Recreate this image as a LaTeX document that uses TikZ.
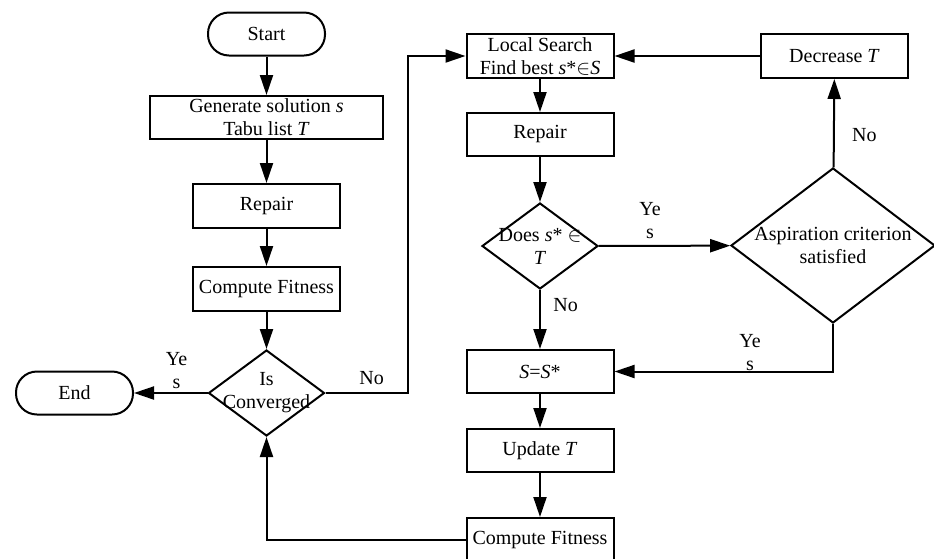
\documentclass[tikz,border=0pt]{standalone}
\usepackage{fontspec}
\setmainfont{Liberation Serif}
\usetikzlibrary{arrows.meta,shapes.geometric}

\begin{document}
\begin{tikzpicture}[x=1pt,y=-1pt,line width=2pt,
    font=\fontsize{20}{23}\selectfont,
    box/.style={draw,rectangle,minimum width=147pt,minimum height=44pt,inner sep=0pt,align=center},
    term/.style={draw,rectangle,rounded corners=21pt,minimum width=117pt,minimum height=43pt,inner sep=0pt},
    cond/.style={draw,diamond,inner sep=0pt,minimum width=116pt,minimum height=86pt},
    arr/.style={-{Triangle[length=20pt,width=13pt]}}]
    \useasboundingbox (0,0) rectangle (934,558);
    % left column
    \node[term] (start) at (266.5,34) {Start};
    \node[box,minimum width=233pt,minimum height=43pt] (gen) at (266.5,117.5) {Generate solution \textit{s}\\Tabu list \textit{T}};
    \node[box] (rep1) at (266.5,206) {Repair};
    \node[box] (cf1) at (266.5,289) {Compute Fitness};
    \node[cond,label={[align=center]center:Is\\Converged}] (conv) at (266.5,393) {};
    \node[term] (endn) at (74.5,393) {End};
    % middle column
    \node[box] (ls) at (540,56) {Local Search\\Find best \textit{s}*$\in$\textit{S}};
    \node[box,minimum height=43pt] (rep2) at (540,134.5) {Repair};
    \node[cond,label={[align=center]center:Does \textit{s}* $\in$\\\textit{T}}] (does) at (540,246) {};
    \node[box,minimum height=43pt] (sss) at (540,371.5) {\textit{S}=\textit{S}*};
    \node[box,minimum height=43pt] (upd) at (540,450.5) {Update \textit{T}};
    \node[box,minimum height=43pt] (cf2) at (540,539.5) {Compute Fitness};
    % right column
    \node[box] (dec) at (834.5,56) {Decrease \textit{T}};
    \node[cond,minimum width=204pt,minimum height=155pt,label={[align=center]center:Aspiration criterion\\satisfied}] (asp) at (833,245.5) {};
    \coordinate (jog) at (408,56);

    \draw [arr] (start) -- (gen);
    \draw [arr] (gen) -- (rep1);
    \draw [arr] (rep1) -- (cf1);
    \draw [arr] (cf1) -- (conv);
    \draw [arr] (conv) -- node[pos=0.42,above,align=center] (yes1) {Ye\\s} (endn);
    \draw [arr] (conv.east) -| node[pos=0.28,above,yshift=4pt] (no1) {No} (jog) -- (ls.west);
    \draw [arr] (ls) -- (rep2);
    \draw [arr] (rep2) -- (does);
    \draw [arr] (does) -- node[pos=0.39,above,align=center,yshift=3pt] (yes2) {Ye\\s} (asp);
    \draw [arr] (does) -- node[pos=0.26,right,xshift=9pt] (no2) {No} (sss);
    \draw [arr] (asp) -- node[pos=0.37,right,xshift=14pt] (no3) {No} (dec);
    \draw [arr] (dec) -- (ls);
    \draw [arr] (asp.south) |- node[pos=0.69,above,align=center,yshift=-4pt] (yes3) {Ye\\s} (sss.east);
    \draw [arr] (sss) -- (upd);
    \draw [arr] (upd) -- (cf2);
    \draw [arr] (cf2.west) -| (conv.south);
\end{tikzpicture}
\end{document}
